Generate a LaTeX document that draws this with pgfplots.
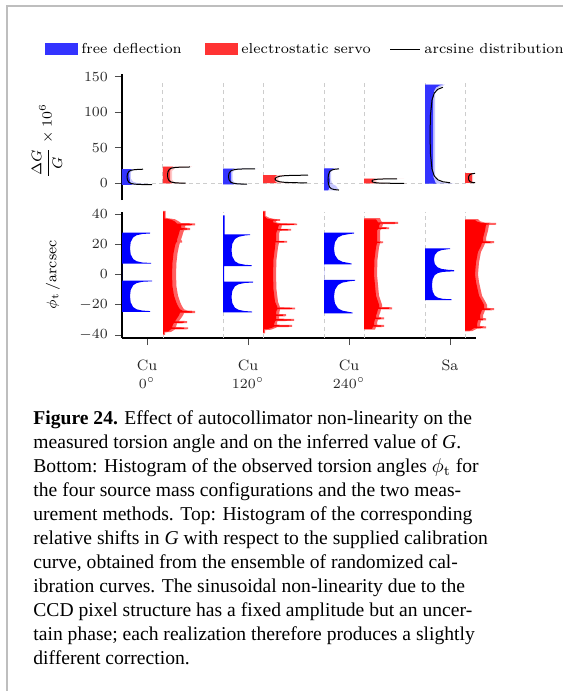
\documentclass[border=0pt]{standalone}
\usepackage{fontspec}
\usepackage{amsmath}
\usepackage{pgfplots}
\pgfplotsset{compat=1.18}
\newfontfamily\capfont{Liberation Serif}
\definecolor{fdblue}{RGB}{51,51,255}
\definecolor{esred}{RGB}{255,51,51}
\definecolor{gridgray}{RGB}{205,205,205}
\definecolor{framegray}{RGB}{190,190,190}
\pgfplotsset{
  vgrid/.style={gridgray, dash pattern=on 2pt off 1.7pt, line width=0.5pt, forget plot},
  hist/.style={draw=none, forget plot},
  acurve/.style={black, line width=0.5pt, forget plot},
  common/.style={
    scale only axis, width=177pt, xmin=0, xmax=354, clip=false,
    axis y line*=left, tick align=outside, major tick length=3.5pt,
    tick style={black!70, line width=0.4pt},
    axis line style={black, line width=0.6pt},
    every tick label/.append style={font=\fontsize{7.5}{9}\selectfont, text=black!85},
    label style={font=\fontsize{7.5}{9}\selectfont},
  },
}
\begin{document}
\begin{tikzpicture}
\path[use as bounding box] (0,0) rectangle (281.5pt,-345.5pt);
\draw[framegray, line width=1pt] (3.5pt,-345.5pt) -- (3.5pt,-3pt) -- (281.5pt,-3pt);

% legend
\fill[fdblue] (22.5pt,-21.5pt) rectangle (39pt,-27.5pt);
\node[anchor=west, inner sep=0pt, font=\fontsize{7.2}{9}\selectfont] at (40.5pt,-24.3pt) {free deflection};
\fill[esred] (102.5pt,-21.5pt) rectangle (119pt,-27.5pt);
\node[anchor=west, inner sep=0pt, font=\fontsize{7.2}{9}\selectfont] at (120.5pt,-24.3pt) {electrostatic servo};
\draw[black, line width=0.5pt] (195pt,-24.5pt) -- (210pt,-24.5pt);
\node[anchor=west, inner sep=0pt, font=\fontsize{7.2}{9}\selectfont] at (212pt,-24.3pt) {arcsine distribution};

% ---------------- top panel ----------------
\begin{axis}[common, height=63pt, ymin=-24, ymax=154,
  at={(61pt,-100pt)}, anchor=south west,
  axis x line=none, ytick={0,50,100,150},
  ylabel={$\dfrac{\Delta G}{G}\times 10^{6}$},
  ylabel style={at={(axis description cs:-0.212,0.468)}, anchor=center},
]
\addplot[vgrid] coordinates {(0,0) (354,0)};
\addplot[vgrid] coordinates {(41,0) (41,145)};
\addplot[vgrid] coordinates {(101,0) (101,145)};
\addplot[vgrid] coordinates {(141,0) (141,145)};
\addplot[vgrid] coordinates {(202,0) (202,145)};
\addplot[vgrid] coordinates {(242,0) (242,145)};
\addplot[vgrid] coordinates {(303,0) (303,145)};
\addplot[vgrid] coordinates {(343,0) (343,145)};

% light fringes
\addplot[hist, fill=blue, fill opacity=0.22] coordinates {(0,-2.8) (30,-2.8) (30,-1.6) (16,-0.5) (11,2) (9,6) (9,15) (11,18.5) (15,19.7) (0,19.7)};
\addplot[hist, fill=red, fill opacity=0.22] coordinates {(41,-0.5) (65,-0.5) (60,0.5) (52,1.5) (50,5) (50,17) (53,21) (62,22) (70,23) (41,23)};
\addplot[hist, fill=blue, fill opacity=0.22] coordinates {(101,-2) (126,-2) (118,-1) (112,1) (110.5,5) (110.5,15) (113,19) (125,20) (136,20.5) (101,20.5)};
\addplot[hist, fill=red, fill opacity=0.22] coordinates {(141,0) (172,0) (162,0.8) (157,2.5) (156,5.5) (157,9) (163,10.6) (175,11.3) (141,11.3)};
\addplot[hist, fill=blue, fill opacity=0.22] coordinates {(202,-10.5) (214,-10.5) (216,-8) (214,-4) (210,-1) (209,5) (209,15) (211,19) (216,20.6) (202,20.6)};
\addplot[hist, fill=red, fill opacity=0.22] coordinates {(242,-0.5) (285,-0.5) (265,0) (255,1) (254,3) (255,5) (265,5.8) (282,6.2) (242,6.2)};
\addplot[hist, fill=blue, fill opacity=0.22] coordinates {(303,-1) (333,-1) (320,1) (315,4) (313,10) (313,128) (316,134) (323,139) (303,139)};
\addplot[hist, fill=red, fill opacity=0.22] coordinates {(343,0) (354,0) (351,1) (351,13) (354,14) (343,14)};
% solid
\addplot[hist, fill=fdblue] coordinates {(0,-2.8) (10,-2.8) (9,-1) (8,2) (7.5,8) (7.5,15) (8.5,18.5) (10,19.7) (0,19.7)};
\addplot[hist, fill=esred] coordinates {(41,-0.5) (50,-0.5) (49,1.5) (48,5) (48,17) (49,21) (51,23) (41,23)};
\addplot[hist, fill=fdblue] coordinates {(101,-2) (112,-2) (110,0) (109,4) (109,16) (110.5,19.5) (113,20.5) (101,20.5)};
\addplot[hist, fill=esred] coordinates {(141,0) (155,0) (153.5,1.5) (153,5.5) (153.5,9.5) (155,11.3) (141,11.3)};
\addplot[hist, fill=fdblue] coordinates {(202,-10.5) (206,-10.5) (207,-8) (207,-3) (208,2) (207.5,10) (208,17) (210,19.5) (212,20.6) (202,20.6)};
\addplot[hist, fill=esred] coordinates {(242,-0.5) (252,-0.5) (251,1) (250.5,3) (251,5) (253,6.2) (242,6.2)};
\addplot[hist, fill=fdblue] coordinates {(303,-1) (314,-1) (313,2) (311.5,8) (311,20) (311,120) (312,130) (314,135) (318,138) (321,139) (303,139)};
\addplot[hist, fill=esred] coordinates {(343,0) (350,0) (350,14) (343,14)};
% arcsine curves
\addplot[acurve] coordinates {(30,-2.34) (25,-2.28) (17.9,-2.05) (12.8,-1.61) (9.2,-0.72) (7,0.85) (5.5,4.19) (5,8.65) (5.5,13.11) (7,16.46) (9.2,18.02) (12.8,18.91) (17.9,19.35) (21,19.49)};
\addplot[acurve] coordinates {(63.6,-0.27) (57.1,-0.03) (52.5,0.43) (49.3,1.36) (47.3,2.99) (45.9,6.49) (45.5,11.15) (45.9,15.81) (47.3,19.3) (49.3,20.94) (52.5,21.87) (57.1,22.33) (63.6,22.57) (68,22.64)};
\addplot[acurve] coordinates {(125,-1.7) (120.6,-1.55) (115,-1.11) (111.1,-0.22) (108.7,1.35) (107,4.69) (106.5,9.15) (107,13.61) (108.7,16.96) (111.1,18.52) (115,19.41) (120.6,19.85) (128.7,20.08) (133,20.13)};
\addplot[acurve] coordinates {(185,0.2) (171.6,0.45) (163.1,0.9) (157.8,1.7) (154.1,3.39) (153,5.65) (154.1,7.91) (157.8,9.6) (163.1,10.4) (171.6,10.85) (186,11.1)};
\addplot[acurve] coordinates {(217,-9.94) (212.2,-9.26) (209.4,-8.01) (207.6,-5.84) (206.4,-1.17) (206,5.05) (206.4,11.27) (207.6,15.94) (209.4,18.11) (212.2,19.36) (217,20.04)};
\addplot[acurve] coordinates {(282,-0.44) (270.6,-0.37) (262.4,-0.24) (256.7,0.02) (253.2,0.48) (250.7,1.45) (250,2.75) (250.7,4.05) (253.2,5.03) (256.7,5.48) (262.4,5.74) (275,5.9)};
\addplot[acurve] coordinates {(328.1,0.39) (320.9,1.78) (315.8,4.56) (312.2,10.12) (310,19.85) (308.5,40.7) (308,68.5) (308.5,96.3) (310,117.15) (312.2,126.88) (315.8,132.44) (320.9,135.22)};
\addplot[acurve] coordinates {(353,0.42) (351.9,0.56) (349.4,1.12) (347.9,2.1) (346.8,4.2) (346.5,7) (346.8,9.8) (347.9,11.9) (349.4,12.88) (351.9,13.44) (353,13.58)};
\end{axis}

% ---------------- bottom panel ----------------
\begin{axis}[common, height=63.15pt, ymin=-42, ymax=41.5,
  at={(61pt,-169pt)}, anchor=south west,
  axis x line*=bottom,
  ytick={-40,-20,0,20,40},
  xtick={25,126,227,328},
  xticklabels={{Cu\\$0^\circ$},{Cu\\$120^\circ$},{Cu\\$240^\circ$},{Sa}},
  xticklabel style={align=center, yshift=-4pt},
  ylabel={$\phi_{\mathrm{t}}\,/\mathrm{arcsec}$},
  ylabel style={at={(axis description cs:-0.195,0.5)}, anchor=center},
]
\addplot[vgrid] coordinates {(41,-42) (41,41.5)};
\addplot[vgrid] coordinates {(101,-42) (101,41.5)};
\addplot[vgrid] coordinates {(141,-42) (141,41.5)};
\addplot[vgrid] coordinates {(202,-42) (202,41.5)};
\addplot[vgrid] coordinates {(242,-42) (242,41.5)};
\addplot[vgrid] coordinates {(303,-42) (303,41.5)};
\addplot[vgrid] coordinates {(343,-42) (343,41.5)};

% free deflection
\addplot[hist, fill=blue] coordinates {(0,-24.7) (28,-24.7) (28,-24.2) (20.4,-23.87) (14.7,-23.04) (11.2,-21.6) (8.7,-18.49) (8,-14.35) (8.7,-10.21) (11.2,-7.1) (14.7,-5.66) (20.4,-4.83) (30,-4.5) (30,-4.0) (0,-4.0) (0,7.1) (29,7.1) (29,7.6) (20.4,7.92) (14.7,8.74) (11.2,10.18) (8.7,13.25) (8,17.35) (8.7,21.45) (11.2,24.53) (14.7,25.96) (20.4,26.78) (28,27.1) (28,27.6) (0,27.6)};
\addplot[hist, fill=blue] coordinates {(101,-25) (130,-25) (130,-24.5) (122.7,-24.19) (116.6,-23.38) (112.9,-21.97) (110.3,-18.94) (109.5,-14.9) (110.3,-10.86) (112.9,-7.83) (116.6,-6.42) (122.7,-5.61) (131,-5.3) (131,-4.8) (102,-4.8) (102,5.6) (129.7,5.6) (129.7,6.1) (122.7,6.44) (116.6,7.28) (112.9,8.75) (110.3,11.9) (109.5,16.1) (110.3,20.3) (112.9,23.45) (116.6,24.92) (122.7,25.76) (128,26.1) (128,26.6) (102.5,26.6) (102.5,39) (101,39)};
\addplot[hist, fill=blue] coordinates {(202,-25.7) (230.7,-25.7) (230.7,-25.2) (227.5,-24.82) (220.4,-23.93) (216,-22.39) (212.9,-19.07) (212,-14.65) (212.9,-10.23) (216,-6.92) (220.4,-5.37) (227.5,-4.48) (233,-4.1) (233,-3.6) (202,-3.6) (202,6.7) (229.7,6.7) (229.7,7.2) (227.5,7.54) (220.4,8.37) (216,9.84) (212.9,12.97) (212,17.15) (212.9,21.33) (216,24.47) (220.4,25.93) (227.5,26.76) (232,27.1) (232,27.6) (202,27.6)};
\addplot[hist, fill=blue] coordinates {(303,-16.9) (329.7,-16.9) (329.7,-16.4) (320.9,-16.12) (315.9,-15.35) (312.8,-13.99) (310.6,-11.08) (310,-7.2) (310.6,-3.32) (312.8,-0.41) (315.9,0.95) (320.9,1.72) (332,2.1) (332,2.9) (326,3.09) (319.6,3.68) (315.6,4.72) (312.8,6.94) (312,9.9) (312.8,12.86) (315.6,15.08) (319.6,16.12) (326,16.71) (328,16.8) (328,17.3) (303,17.3)};

% electrostatic servo: lighter envelope
\addplot[hist, fill=red!62] coordinates {(41,-40) (43,-40) (43,-38.3) (49,-38) (53,-36.3) (66,-36.2) (66,-35) (54,-34.8) (55,-32.3) (65,-32.2) (65,-30.8) (57,-30.6) (59,-29) (61,-27) (62,-25.6) (73,-25.5) (73,-24.1) (65,-23.8) (62,-23) (60,-21) (58,-18) (56,-14) (54.5,-8) (54,0) (54.5,8) (55.5,14) (57,19) (58,21) (60,21.1) (60,22.2) (59,23) (60,25) (61,27.2) (62,29.2) (68,29.4) (68,30.7) (63,31) (63,32.2) (73,32.5) (73,33.8) (59,34) (57,35) (53,36.5) (46,37.2) (43.5,37.5) (43.5,42) (41,42)};
\addplot[hist, fill=red!62] coordinates {(141,-39) (143,-39) (143,-36.8) (149,-36.5) (154,-35.2) (155,-34.8) (170,-34.7) (170,-33.4) (155,-33.2) (155,-31) (157,-30.8) (172,-30.7) (172,-29.4) (157,-29.2) (157,-27.7) (164,-27.6) (164,-26.3) (157,-26.1) (158,-23.1) (173,-23) (173,-21.9) (158,-21.7) (156,-18) (154.5,-10) (154,0) (154.5,10) (156,18) (157,21) (165,21.1) (165,22.2) (157,22.3) (157,26.8) (158,28.9) (169,29) (169,30.1) (159,30.2) (160,32.5) (175,32.6) (175,33.7) (159,33.8) (154,34.5) (154,35.4) (158,35.5) (158,36.6) (152,36.7) (147,37.5) (144,38.6) (143.5,38.7) (143.5,42) (141,42)};
\addplot[hist, fill=red!62] coordinates {(242,-36.5) (253,-36.4) (254,-34.8) (262,-34.7) (262,-33.4) (255,-33.2) (255,-32) (256,-29.8) (262,-29.7) (262,-28.4) (257,-28.2) (257,-27) (258,-25.6) (259,-23.1) (270,-23) (270,-21.7) (260,-21.5) (260,-20) (257,-14) (255,0) (255.5,10) (257,18) (258,20.6) (261,20.7) (261,21.9) (258,22) (258,24) (258,29) (259,29.9) (267,30) (267,31.2) (260,31.3) (261,33.3) (276,33.4) (276,34.7) (260,34.8) (259,35.5) (258,37.2) (242,37.2)};
\addplot[hist, fill=red!62] coordinates {(343,-37.6) (350,-37.5) (355,-35.8) (364,-35.6) (364,-34.3) (358,-34.1) (358,-33) (359,-30.5) (364,-30.3) (364,-29) (361,-28.8) (361,-27) (363,-23.8) (372,-23.6) (372,-22.3) (365,-22.1) (365,-20) (360,-14) (357,-5) (356,0) (357,8) (359,15) (362,19) (363,20.5) (372,20.7) (372,22) (364,22.2) (364,24) (366,29) (367,32.7) (374,32.9) (374,34.1) (363,34.3) (358,35.2) (356,36.6) (343,36.6)};
% electrostatic servo: solid
\addplot[hist, fill=red] coordinates {(41,-39.5) (42,-39.5) (42,-37.8) (46,-37.8) (49,-36.2) (50,-36.0) (62,-35.9) (62,-35.2) (50,-35.0) (51,-33) (52,-32.0) (62,-31.9) (62,-31.2) (53,-31.0) (55,-29) (57,-27) (58,-25.3) (70,-25.2) (70,-24.4) (61,-24.1) (58,-23) (56,-21) (54,-18) (52,-14) (50.5,-8) (50,0) (50.5,8) (51.5,14) (53,19) (54,21.2) (55,21.3) (55,21.9) (55,23) (56,25) (57,27.2) (58,29.5) (65,29.7) (65,30.4) (59,30.8) (59,32.4) (70,32.8) (70,33.5) (55,33.7) (53,35) (49,36.3) (44,36.8) (42.5,37) (42.5,41.5) (41,41.5)};
\addplot[hist, fill=red] coordinates {(141,-38.5) (142,-38.5) (142,-36.2) (146,-36) (151,-35) (152,-34.5) (167,-34.4) (167,-33.7) (152,-33.5) (152,-33) (153,-31) (154,-30.5) (169,-30.4) (169,-29.7) (154,-29.5) (154,-29) (154,-27.4) (161,-27.3) (161,-26.6) (154,-26.4) (154,-25) (155,-23) (170,-22.8) (170,-22.1) (155,-21.9) (155,-21) (153,-18) (151.5,-10) (151,0) (151.5,10) (153,18) (153.5,21.2) (162,21.3) (162,22) (154,22.1) (154,26.8) (155,29.1) (166,29.2) (166,29.9) (156,30) (156,31) (157,32.7) (172,32.8) (172,33.5) (156,33.6) (151,34.5) (151,35.6) (155,35.7) (155,36.3) (149,36.4) (145,37) (143,38.2) (142.5,38.3) (142.5,41.5) (141,41.5)};
\addplot[hist, fill=red] coordinates {(242,-36) (250,-36) (251,-34.5) (259,-34.4) (259,-33.7) (252,-33.5) (252,-32) (253,-29.5) (259,-29.4) (259,-28.7) (254,-28.5) (254,-27) (255,-25.6) (256,-22.8) (267,-22.7) (267,-22) (257,-21.8) (257,-20) (254,-14) (252,0) (252.5,10) (254,18) (255,20.8) (258,20.9) (258,21.6) (255,21.7) (255,24) (255,29) (256,30.1) (264,30.2) (264,30.9) (257,31) (257,32) (258,33.6) (273,33.7) (273,34.4) (256,34.5) (255,35.5) (254,36.5) (242,36.5)};
\addplot[hist, fill=red] coordinates {(343,-37.1) (348,-37.1) (352,-35.5) (360.7,-35.3) (360.7,-34.6) (355,-34.4) (355,-33) (356,-30.2) (361,-30) (361,-29.3) (358,-29.1) (358,-27) (360,-23.5) (368.7,-23.3) (368.7,-22.6) (362,-22.4) (362,-20) (357,-14) (354,-5) (353,0) (354,8) (356,15) (359,19) (360,20.8) (368.7,21) (368.7,21.7) (361,21.9) (361,24) (363,29) (364,32.9) (367,33.1) (367,33.8) (360,34) (355,35) (353,36) (343,36)};
\end{axis}

\node[anchor=base west, inner sep=0pt] at (16.5pt,-212.2pt) {%
\parbox[t]{255pt}{\raggedright\capfont\fontsize{9.8}{12}\selectfont
\textbf{Figure 24.} Effect of autocollimator non-linearity on the\\
measured torsion angle and on the inferred value of \textit{G}.\\
Bottom: Histogram of the observed torsion angles $\phi_{\mathrm{t}}$ for\\
the four source mass configurations and the two meas-\\
urement methods. Top: Histogram of the corresponding\\
relative shifts in \textit{G} with respect to the supplied calibration\\
curve, obtained from the ensemble of randomized cal-\\
ibration curves. The sinusoidal non-linearity due to the\\
CCD pixel structure has a fixed amplitude but an uncer-\\
tain phase; each realization therefore produces a slightly\\
different correction.}};
\end{tikzpicture}
\end{document}
